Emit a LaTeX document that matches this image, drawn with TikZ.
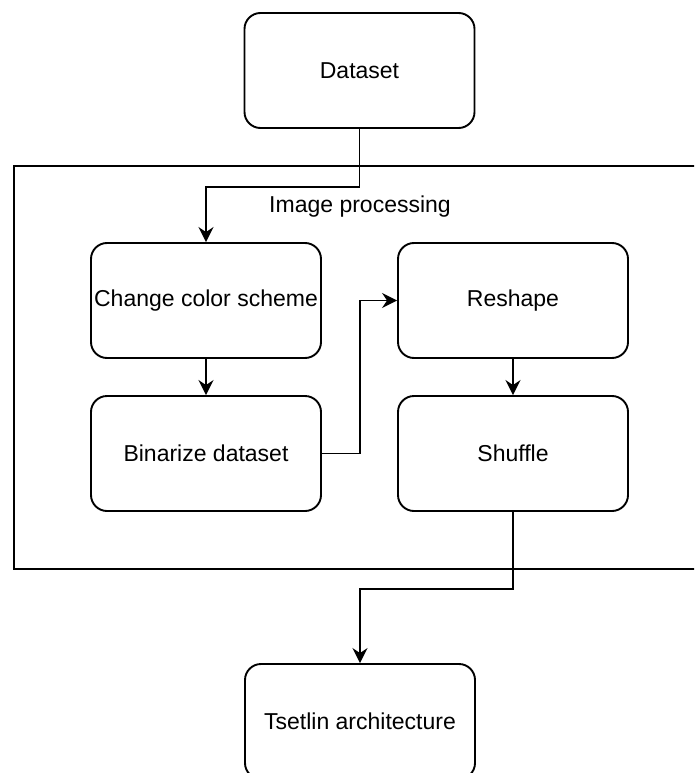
\documentclass[tikz,border=0pt]{standalone}
\usepackage{fontspec}
\setmainfont{Liberation Sans}
\usetikzlibrary{arrows.meta}
\begin{document}
\begin{tikzpicture}[x=1pt,y=-1pt,
  stepbox/.style={draw, line width=1.9pt, rounded corners=16pt,
    minimum width=230pt, minimum height=115pt, inner sep=0pt,
    font=\fontsize{23}{27}\selectfont},
  link/.style={line width=1.9pt, -{Stealth[length=15pt,width=15pt,inset=5pt]}},
  frame/.style={line width=1.9pt}]
\useasboundingbox (0,0) rectangle (694,773);
\clip (0,0) rectangle (694,773);
\fill[white] (0,0) rectangle (694,773);

% processing group (its right side runs off the page)
\draw[frame] (720,166) -- (14,166) -- (14,569) -- (720,569);
\node[font=\fontsize{23}{27}\selectfont] (lbl) at (360,207) {Image processing};

% steps
\node[stepbox] (data) at (359.5,70.5) {Dataset};
\node[stepbox] (ccs) at (206,300.5) {Change color scheme};
\node[stepbox] (bin) at (206,453.5) {Binarize dataset};
\node[stepbox] (resh) at (513,300.5) {Reshape};
\node[stepbox] (shuf) at (513,453.5) {Shuffle};
\node[stepbox] (tsetlin) at (360,721.5) {Tsetlin architecture};

% connectors
\draw[link] (data.south) -- ++(0,58) -| (ccs.north);
\draw[link] (ccs.south) -- (bin.north);
\draw[link] (bin.east) -- (360,453.5) |- (resh.west);
\draw[link] (resh.south) -- (shuf.north);
\draw[link] (shuf.south) -- ++(0,77) -| (tsetlin.north);
\end{tikzpicture}
\end{document}
